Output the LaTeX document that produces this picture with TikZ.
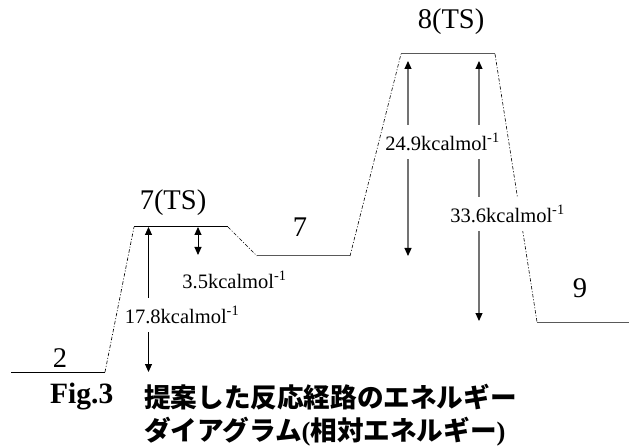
\documentclass[tikz,border=0pt]{standalone}
\usepackage{fontspec}
\setmainfont{Liberation Serif}
\newfontfamily\cjk{Noto Sans CJK JP}
\usetikzlibrary{arrows.meta}
\tikzset{
  level/.style={line width=1bp, draw=black},
  levelg/.style={line width=1bp, draw=black!65},
  link/.style={line width=0.6bp, dash pattern=on 3.5bp off 1.8bp on 1bp off 1.8bp},
  dbl/.style={line width=0.9bp, {Triangle[length=8bp,width=7bp]}-{Triangle[length=8bp,width=7bp]}},
  dblg/.style={line width=1.1bp, draw=black!55, {Triangle[length=8bp,width=7bp,color=black]}-{Triangle[length=8bp,width=7bp,color=black]}},
  lbl/.style={font=\fontsize{28.5bp}{30bp}\selectfont, inner sep=0pt},
  elbl/.style={font=\fontsize{20.5bp}{22bp}\selectfont, inner sep=0pt},
  cut/.style={fill=white, inner xsep=2bp, inner ysep=8bp},
  captext/.style={inner sep=0pt, anchor=west},
}
\begin{document}
\begin{tikzpicture}[x=1bp,y=-1bp]
\useasboundingbox (0,0) rectangle (629,446);
% level end points
\coordinate (a1) at (11,372);  \coordinate (a2) at (105,372);
\coordinate (b1) at (134,227); \coordinate (b2) at (228,227);
\coordinate (c1) at (257,256); \coordinate (c2) at (350,256);
\coordinate (d1) at (401,54);  \coordinate (d2) at (495,54);
\coordinate (e1) at (537,322); \coordinate (e2) at (629,322);
% levels
\draw[level] (a1) -- (a2);
\draw[level] (b1) -- (b2);
\draw[levelg] (c1) -- (c2);
\draw[levelg] (d1) -- (d2);
\draw[levelg] (e1) -- (e2);
% connecting links
\draw[link] (a2) -- (b1);
\draw[link] (b2) -- (c1);
\draw[link] (c2) -- (d1);
\draw[link] (d2) -- (e1);
% energy arrows
\coordinate (p1) at (148.5,227); \coordinate (p2) at (148.5,372);
\coordinate (q1) at (198,227);   \coordinate (q2) at (198,255);
\coordinate (r1) at (408,61);    \coordinate (r2) at (408,256);
\coordinate (s1) at (479,61);    \coordinate (s2) at (479,321);
\draw[dbl] (p1) -- (p2);
\draw[dbl] (q1) -- (q2);
\draw[dblg] (r1) -- (r2);
\draw[dblg] (s1) -- (s2);
% state labels
\node[lbl] (l2) at (60,358) {2};
\node[lbl] (l7ts) at (173,203) {7(TS)};
\node[lbl] (l7) at (300,227) {7};
\node[lbl] (l8ts) at (451,22) {8(TS)};
\node[lbl] (l9) at (580,288) {9};
% energy labels
\node[elbl, cut] (e178) at (182,315) {17.8kcalmol\textsuperscript{-1}};
\node[elbl] (e35) at (234.5,280) {3.5kcalmol\textsuperscript{-1}};
\node[elbl, cut] (e249) at (442.5,142) {24.9kcalmol\textsuperscript{-1}};
\node[elbl, cut] (e336) at (507.5,214) {33.6kcalmol\textsuperscript{-1}};
% caption
\node[captext, font=\fontsize{29.5bp}{30bp}\selectfont\bfseries] (fig) at (50,397) {Fig.3};
\node[captext, font=\fontsize{26.6bp}{30bp}\selectfont\bfseries] (cap1) at (144,397) {\cjk 提案した反応経路のエネルギー};
\node[captext, font=\fontsize{26.6bp}{30bp}\selectfont\bfseries] (cap2) at (144,432) {{\cjk ダイアグラム}({\cjk 相対エネルギー})};
\end{tikzpicture}
\end{document}
